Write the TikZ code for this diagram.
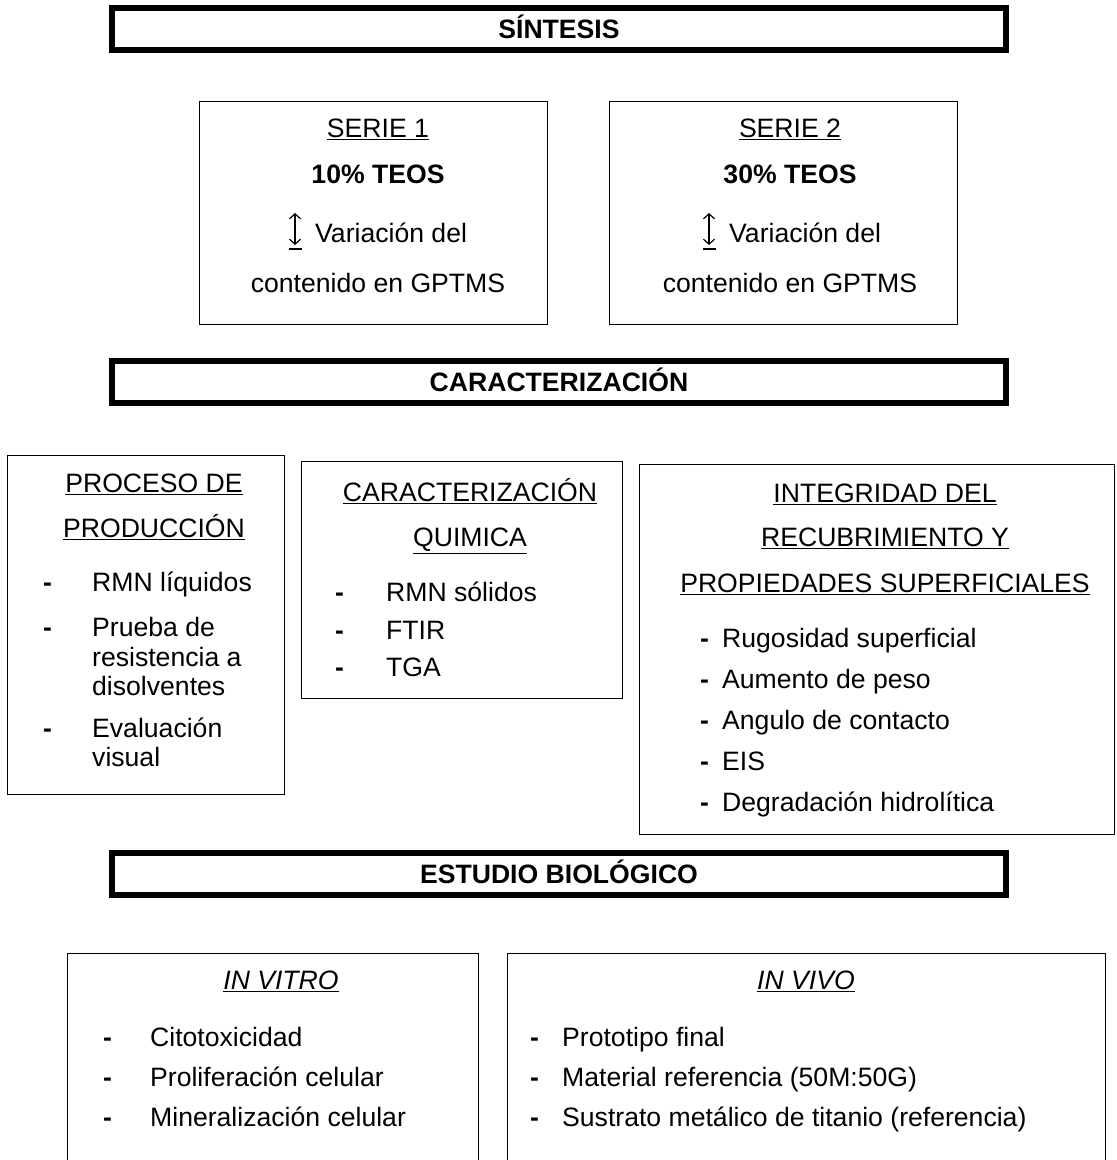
\documentclass[tikz,border=0pt]{standalone}
\usepackage{fontspec}
\setmainfont{Liberation Sans}
\usetikzlibrary{arrows.meta}
\newcommand{\fsz}{\fontsize{26.6}{30}\selectfont}
\begin{document}
\begin{tikzpicture}[x=1pt,y=-1pt,
  bar/.style={draw, line width=6pt, inner sep=0pt, anchor=north west},
  box/.style={draw, line width=1.3pt, inner sep=0pt, anchor=north west},
  lbl/.style={anchor=base, inner sep=0pt, font=\fsz},
  hdr/.style={anchor=base, inner sep=0pt, font=\fsz\bfseries},
  itm/.style={anchor=base west, inner sep=0pt, font=\fsz},
  bul/.style={anchor=base west, inner sep=0pt, font=\fsz\bfseries},
  updown/.style={line width=1.2pt, {Straight Barb[length=5pt,width=11pt]}-{Straight Barb[length=5pt,width=11pt]}},
  baseline/.style={line width=1.3pt}]
\useasboundingbox (0,0) rectangle (1117,1160);
% ---------- SINTESIS ----------
\node[bar, minimum width=894pt, minimum height=42pt] (b1) at (109,5) {};
\node[hdr] (t1) at (559,38.5) {SÍNTESIS};
% SERIE 1
\node[box, minimum width=347.7pt, minimum height=222.7pt] (s1) at (199,101) {};
\node[lbl] (s1a) at (378,137.5) {\underline{SERIE 1}};
\node[hdr] (s1b) at (378,183.5) {10\% TEOS};
\node[itm] (s1c) at (315,242.5) {Variación del};
\node[lbl] (s1d) at (378,292.5) {contenido en GPTMS};
\coordinate (s1up) at (295,213);
\coordinate (s1dn) at (295,245);
\coordinate (s1bl) at (288.5,249);
\coordinate (s1br) at (301.5,249);
\draw[updown] (s1dn) -- (s1up);
\draw[baseline] (s1bl) -- (s1br);
% SERIE 2
\node[box, minimum width=347.7pt, minimum height=222.7pt] (s2) at (609,101) {};
\node[lbl] (s2a) at (790,137.5) {\underline{SERIE 2}};
\node[hdr] (s2b) at (790,183.5) {30\% TEOS};
\node[itm] (s2c) at (729,242.5) {Variación del};
\node[lbl] (s2d) at (790,292.5) {contenido en GPTMS};
\coordinate (s2up) at (709,213);
\coordinate (s2dn) at (709,245);
\coordinate (s2bl) at (702.5,249);
\coordinate (s2br) at (715.5,249);
\draw[updown] (s2dn) -- (s2up);
\draw[baseline] (s2bl) -- (s2br);
% ---------- CARACTERIZACION ----------
\node[bar, minimum width=894pt, minimum height=42pt] (b2) at (109,358) {};
\node[hdr] (t2) at (559,391.5) {CARACTERIZACIÓN};
% PROCESO
\node[box, minimum width=276.7pt, minimum height=338.7pt] (p) at (7,455) {};
\node[lbl] (pa) at (154,492.5) {\underline{PROCESO DE}};
\node[lbl] (pb) at (154,537.5) {\underline{PRODUCCIÓN}};
\node[bul] (pd1) at (43,591.5) {-};
\node[itm] (pi1) at (92,591.5) {RMN líquidos};
\node[bul] (pd2) at (43,636.5) {-};
\node[itm] (pi2a) at (92,636.5) {Prueba de};
\node[itm] (pi2b) at (92,666.5) {resistencia a};
\node[itm] (pi2c) at (92,695.5) {disolventes};
\node[bul] (pd3) at (43,737.5) {-};
\node[itm] (pi3a) at (92,737.5) {Evaluación};
\node[itm] (pi3b) at (92,766.5) {visual};
% CARACTERIZACION QUIMICA
\node[box, minimum width=320.7pt, minimum height=236.7pt] (q) at (301,461) {};
\node[lbl] (qa) at (470,501.5) {\underline{CARACTERIZACIÓN}};
\node[lbl] (qb) at (470,546.5) {\underline{QUIMICA}};
\node[bul] (qd1) at (335,601.5) {-};
\node[itm] (qi1) at (386,601.5) {RMN sólidos};
\node[bul] (qd2) at (335,639.5) {-};
\node[itm] (qi2) at (386,639.5) {FTIR};
\node[bul] (qd3) at (335,676.5) {-};
\node[itm] (qi3) at (386,676.5) {TGA};
% INTEGRIDAD
\node[box, minimum width=474.7pt, minimum height=369.7pt] (g) at (639,464) {};
\node[lbl] (ga) at (885,502.5) {\underline{INTEGRIDAD DEL}};
\node[lbl] (gb) at (885,546.5) {\underline{RECUBRIMIENTO Y}};
\node[lbl] (gc) at (885,592.5) {\underline{PROPIEDADES SUPERFICIALES}};
\node[bul] (gd1) at (700,647.5) {-};
\node[itm] (gi1) at (722,647.5) {Rugosidad superficial};
\node[bul] (gd2) at (700,688.5) {-};
\node[itm] (gi2) at (722,688.5) {Aumento de peso};
\node[bul] (gd3) at (700,729.5) {-};
\node[itm] (gi3) at (722,729.5) {Angulo de contacto};
\node[bul] (gd4) at (700,770.5) {-};
\node[itm] (gi4) at (722,770.5) {EIS};
\node[bul] (gd5) at (700,811.5) {-};
\node[itm] (gi5) at (722,811.5) {Degradación hidrolítica};
% ---------- ESTUDIO BIOLOGICO ----------
\node[bar, minimum width=894pt, minimum height=42pt] (b3) at (109,850) {};
\node[hdr] (t3) at (559,883.5) {ESTUDIO BIOLÓGICO};
% IN VITRO
\node[box, minimum width=410.7pt, minimum height=300pt] (v) at (67,953) {};
\node[lbl] (va) at (281,989.5) {\underline{\itshape IN VITRO}};
\node[bul] (vd1) at (103,1046.5) {-};
\node[itm] (vi1) at (150,1046.5) {Citotoxicidad};
\node[bul] (vd2) at (103,1086.5) {-};
\node[itm] (vi2) at (150,1086.5) {Proliferación celular};
\node[bul] (vd3) at (103,1126.5) {-};
\node[itm] (vi3) at (150,1126.5) {Mineralización celular};
% IN VIVO
\node[box, minimum width=597.7pt, minimum height=300pt] (w) at (507,953) {};
\node[lbl] (wa) at (806,989.5) {\underline{\itshape IN VIVO}};
\node[bul] (wd1) at (530,1046.5) {-};
\node[itm] (wi1) at (562,1046.5) {Prototipo final};
\node[bul] (wd2) at (530,1086.5) {-};
\node[itm] (wi2) at (562,1086.5) {Material referencia (50M:50G)};
\node[bul] (wd3) at (530,1126.5) {-};
\node[itm] (wi3) at (562,1126.5) {Sustrato metálico de titanio (referencia)};
\end{tikzpicture}
\end{document}
